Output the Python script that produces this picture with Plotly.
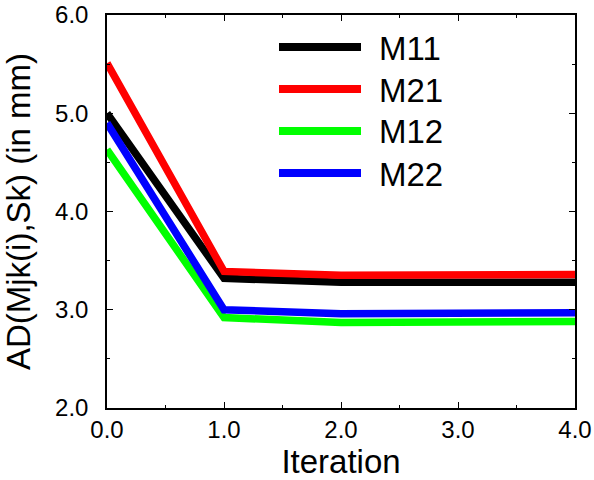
import plotly.graph_objects as go

iterations = [0, 1, 2, 3, 4]
series_names = ["M11", "M21", "M12", "M22"]
m11 = [5.00, 3.32, 3.28, 3.28, 3.28]
m21 = [5.51, 3.39, 3.35, 3.35, 3.36]
m12 = [4.63, 2.92, 2.87, 2.87, 2.88]
m22 = [4.90, 3.00, 2.96, 2.96, 2.97]
series_values = [m11, m21, m12, m22]
colors = ["#000000", "#ff0000", "#00ff00", "#0000ff"]
x_ticks = [0, 1, 2, 3, 4]
x_ticklabels = ["0.0", "1.0", "2.0", "3.0", "4.0"]
y_ticks = [2, 3, 4, 5, 6]
y_ticklabels = ["2.0", "3.0", "4.0", "5.0", "6.0"]

FONT = "Liberation Sans, Arial, sans-serif"

fig = go.Figure()
for name, vals, col in zip(series_names, series_values, colors):
    fig.add_trace(go.Scatter(
        x=iterations, y=vals, mode="lines", name=name,
        line=dict(color=col, width=7.5), showlegend=False,
    ))

W, H = 594, 480
ml, mr, mt, mb = 107, 19, 15, 72
pw, ph = W - ml - mr, H - mt - mb

def px_to_paper_x(px):
    return (px - ml) / pw

def px_to_paper_y(py):
    return 1 - (py - mt) / ph

# custom legend (long line samples)
shapes = []
annotations = []
row_y = [47, 89, 131, 173]
for name, col, ry in zip(series_names, colors, row_y):
    shapes.append(dict(type="line", xref="paper", yref="paper",
                       x0=px_to_paper_x(279), x1=px_to_paper_x(361),
                       y0=px_to_paper_y(ry), y1=px_to_paper_y(ry),
                       line=dict(color=col, width=8)))
    annotations.append(dict(xref="paper", yref="paper",
                            x=px_to_paper_x(377), y=px_to_paper_y(ry + 1),
                            text=name, showarrow=False, xanchor="left", yanchor="middle",
                            font=dict(family=FONT, size=33, color="black")))

axis_common = dict(
    showline=True, linecolor="black", linewidth=1.5, mirror="allticks",
    ticks="inside", ticklen=6, tickwidth=1, tickcolor="black",
    showgrid=False, zeroline=False, automargin=False,
    tickfont=dict(family=FONT, size=24, color="black"),
    title_font=dict(family=FONT, size=33, color="black"),
)

fig.update_layout(
    width=W, height=H,
    margin=dict(l=ml, r=mr, t=mt, b=mb),
    paper_bgcolor="white", plot_bgcolor="white",
    xaxis=dict(range=[0, 4], tickvals=x_ticks, ticktext=x_ticklabels,
               title=dict(text="Iteration"),
               minor=dict(ticks="inside", dtick=0.5, ticklen=3, tickcolor="black"),
               ticklabelstandoff=-1,
               **axis_common),
    yaxis=dict(range=[2, 6], tickvals=y_ticks, ticktext=y_ticklabels,
               title=dict(text="AD(Mjk(i),Sk) (in mm)"),
               minor=dict(ticks="inside", dtick=0.5, ticklen=3, tickcolor="black"),
               ticklabelstandoff=12,
               **axis_common),
    shapes=shapes, annotations=annotations,
    showlegend=False,
)

fig.write_html("out.html", post_script="document.body.style.margin='0';",
               config={"displayModeBar": False})
